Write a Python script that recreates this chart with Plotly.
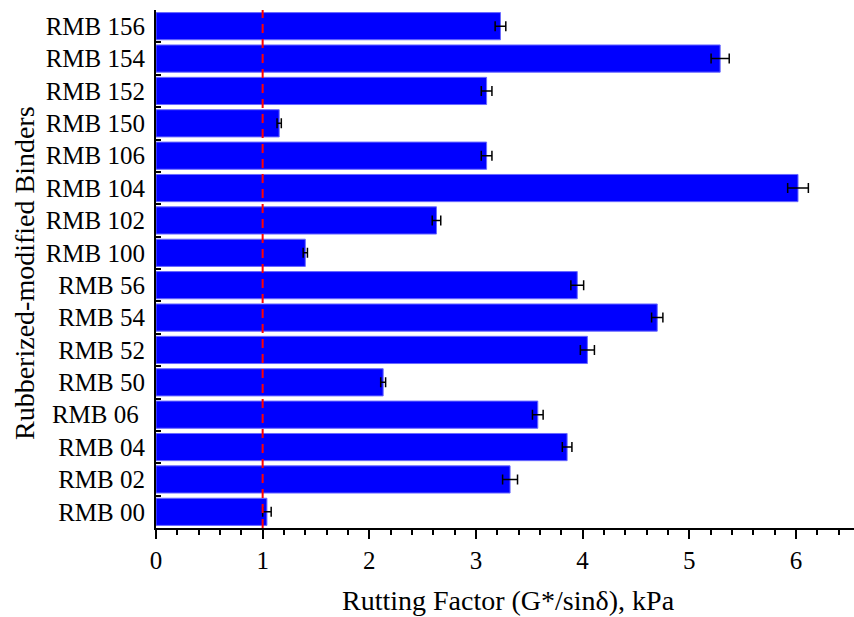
import plotly.graph_objects as go

categories = ["RMB 00", "RMB 02", "RMB 04", "RMB 06 ", "RMB 50", "RMB 52", "RMB 54", "RMB 56",
              "RMB 100", "RMB 102", "RMB 104", "RMB 106", "RMB 150", "RMB 152", "RMB 154", "RMB 156"]
values = [1.04, 3.32, 3.855, 3.58, 2.13, 4.045, 4.70, 3.95,
          1.40, 2.63, 6.02, 3.10, 1.155, 3.10, 5.29, 3.23]
errors = [0.04, 0.07, 0.045, 0.05, 0.023, 0.066, 0.053, 0.06,
          0.02, 0.04, 0.097, 0.05, 0.02, 0.05, 0.085, 0.05]
threshold = 1.0
x_title = "Rutting Factor (G*/sinδ), kPa"
y_title = "Rubberized-modified Binders"

font_family = "Liberation Serif, Times New Roman, serif"

fig = go.Figure()
fig.add_trace(go.Bar(
    y=categories, x=values, orientation="h",
    width=0.84,
    marker=dict(color="#0000FF", line=dict(color="#6A6AFF", width=1)),
    error_x=dict(type="data", array=errors, color="black", thickness=1.5, width=5),
    showlegend=False,
))

fig.add_shape(type="line", xref="x", yref="paper", x0=threshold, x1=threshold, y0=0, y1=1,
              line=dict(color="red", width=2, dash="9px,6px"))

# axis titles placed as annotations for precise positioning
fig.add_annotation(text=x_title, xref="paper", yref="paper", x=(508 - 156) / 698, y=-72 / 518,
                   xanchor="center", yanchor="middle", showarrow=False,
                   font=dict(size=28, family=font_family, color="black"))
fig.add_annotation(text=y_title, xref="paper", yref="paper", x=(24 - 156) / 698, y=(528 - 273) / 518,
                   xanchor="center", yanchor="middle", showarrow=False, textangle=-90,
                   font=dict(size=28, family=font_family, color="black"))

fig.update_layout(
    width=854, height=617,
    margin=dict(l=156, r=0, t=10, b=89),
    plot_bgcolor="white", paper_bgcolor="white",
    font=dict(family=font_family, color="black", size=25),
)
fig.update_xaxes(
    range=[0, 6.545], showgrid=False, zeroline=False, automargin=False,
    showline=True, linecolor="black", linewidth=2,
    ticks="outside", ticklen=9, tickwidth=2, tickcolor="black",
    tick0=0, dtick=1,
    minor=dict(ticks="outside", ticklen=5, tickwidth=1.5, tickcolor="black", dtick=0.2),
    tickfont=dict(size=25, family=font_family),
)
fig.update_yaxes(
    type="category", categoryorder="array", categoryarray=categories,
    range=[-0.5, 15.5], showgrid=False, zeroline=False, automargin=False,
    showline=True, linecolor="black", linewidth=2,
    ticks="inside", ticklen=5, tickwidth=2, tickcolor="black", tickson="boundaries",
    ticklabelstandoff=4,
    tickfont=dict(size=25, family=font_family),
)

fig.write_html("out.html", config={"displayModeBar": False},
               post_script="document.body.style.margin='0';document.body.style.overflow='hidden';")
